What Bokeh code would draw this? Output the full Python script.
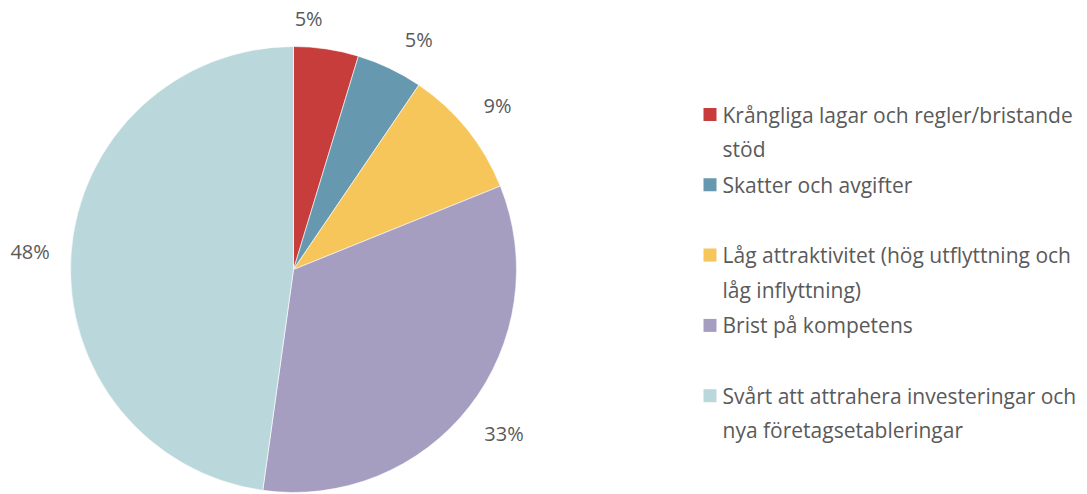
import math
import textwrap
from bokeh.plotting import figure
from bokeh.models import Range1d, ColumnDataSource
from bokeh.core.properties import value
from bokeh.embed import file_html
from bokeh.resources import INLINE

# ---- data ----
categories = [
    "Krångliga lagar och regler/bristande stöd",
    "Skatter och avgifter",
    "Låg attraktivitet (hög utflyttning och låg inflyttning)",
    "Brist på kompetens",
    "Svårt att attrahera investeringar och nya företagsetableringar",
]
shares = [4.7, 4.8, 9.4, 33.3, 47.8]
pct_labels = ["5%", "5%", "9%", "33%", "48%"]
colors = ["#C63D3C", "#6699B0", "#F7C65B", "#A59EC1", "#BAD8DB"]

# ---- layout ----
W, H = 1087, 494
FONT = "Open Sans"
cx, cy, R = 293, H - 269, 223
label_r = [251, 262, 262, 267, 264]
label_nudge_deg = [-5, 3, 0, 0, 0]

p = figure(width=W, height=H, output_backend="svg", toolbar_location=None,
           x_range=Range1d(0, W), y_range=Range1d(0, H),
           min_border=0, outline_line_color=None)
p.axis.visible = False
p.grid.visible = False

total = sum(shares)
starts, ends, mids = [], [], []
c = 0.0
for s in shares:
    a0 = c / total
    c += s
    a1 = c / total
    # clockwise from 12 o'clock
    starts.append(math.pi / 2 - 2 * math.pi * a1)
    ends.append(math.pi / 2 - 2 * math.pi * a0)
    mids.append((a0 + a1) / 2 * 360)

src = ColumnDataSource(dict(start=starts, end=ends, color=colors))
p.wedge(x=cx, y=cy, radius=R, start_angle="start", end_angle="end",
        direction="anticlock", fill_color="color", line_color="white",
        line_width=0.6, source=src)

lx, ly = [], []
for i, m in enumerate(mids):
    ang = math.radians(m + label_nudge_deg[i])
    lx.append(cx + label_r[i] * math.sin(ang))
    ly.append(cy + label_r[i] * math.cos(ang))
p.text(x=lx, y=ly, text=pct_labels, text_align="center", text_baseline="middle",
       text_font=value(FONT), text_font_size="20px", text_color="#5a5a5a")

# ---- legend ----
sq_x, txt_x = 709.5, 722
top0, slot, line_h = H - 114, 70.3, 34.5
sq_y, tx, ty, tt = [], [], [], []
for i, cat in enumerate(categories):
    y0 = top0 - i * slot
    sq_y.append(y0)
    for j, line in enumerate(textwrap.wrap(cat, 38)):
        tx.append(txt_x)
        ty.append(y0 - j * line_h)
        tt.append(line)
p.rect(x=sq_x, y=sq_y, width=13, height=13, fill_color=colors, line_color=None)
p.text(x=tx, y=ty, text=tt, text_align="left", text_baseline="middle",
       text_font=value(FONT), text_font_size="21px", text_color="#5a5a5a")

open("out.html", "w").write(file_html(p, INLINE))
